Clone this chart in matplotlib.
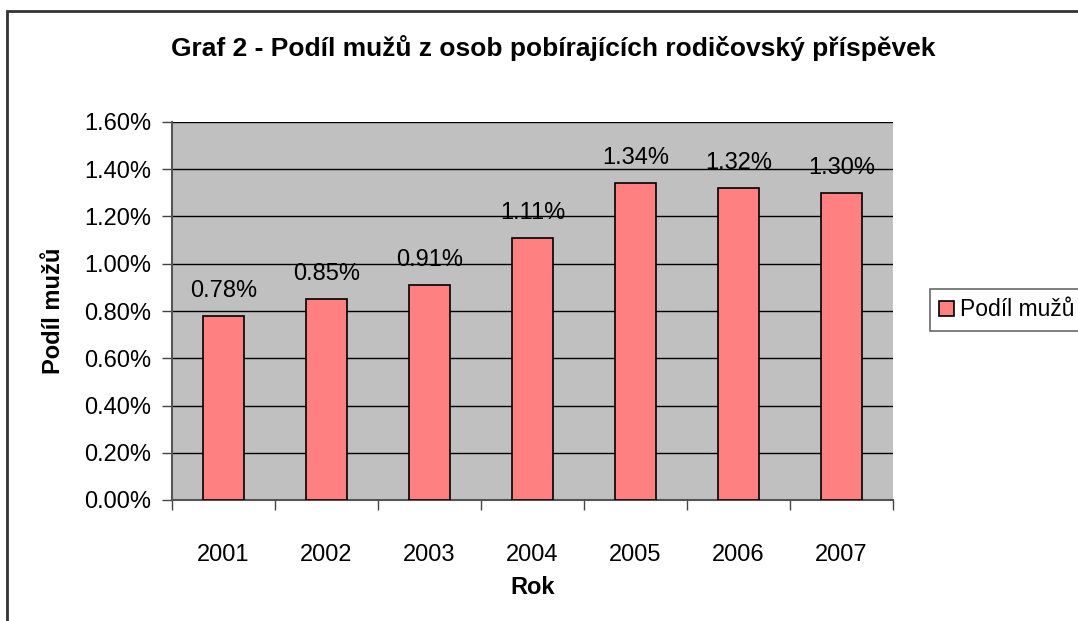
import matplotlib.pyplot as plt
from matplotlib.patches import Rectangle
from matplotlib.ticker import FuncFormatter, MultipleLocator
import numpy as np

plt.rcParams['font.family'] = ['Liberation Sans', 'DejaVu Sans']

# data
years = ['2001', '2002', '2003', '2004', '2005', '2006', '2007']
podil = [0.78, 0.85, 0.91, 1.11, 1.34, 1.32, 1.30]

fig = plt.figure(figsize=(10.78, 6.21), dpi=100)
# outer chart border
fig.patches.append(Rectangle((7 / 1078, -0.1), 1.2, 1 - 11 / 621 + 0.1,
                             transform=fig.transFigure, fill=False,
                             edgecolor='#333333', linewidth=2))

ax = fig.add_axes([172 / 1078, 1 - 500 / 621, (893 - 172) / 1078, (500 - 122) / 621])
ax.set_facecolor('#C0C0C0')

x = np.arange(len(years))
bars = ax.bar(x, podil, width=0.4, color='#FF8080', edgecolor='black',
              linewidth=1.2, label='Podíl mužů', zorder=3)
for xi, v in zip(x, podil):
    ax.text(xi, v + 0.06, '%.2f%%' % v, ha='center', va='bottom', fontsize=17)

ax.set_xlim(-0.5, len(years) - 0.5)
ax.set_ylim(0, 1.6)
ax.yaxis.set_major_locator(MultipleLocator(0.2))
ax.yaxis.set_major_formatter(FuncFormatter(lambda v, p: '%.2f%%' % v))
ax.grid(axis='y', color='black', linewidth=1, zorder=1)
ax.set_axisbelow(True)

ax.set_xticks(x)
ax.set_xticklabels(years)
ax.set_xticks(np.arange(-0.5, len(years)), minor=True)
ax.tick_params(axis='x', which='major', length=0, pad=32, labelsize=17)
ax.tick_params(axis='x', which='minor', length=7, width=1, color='#444444')
ax.tick_params(axis='y', length=7, width=1, color='#444444', labelsize=17, pad=8)

for s in ['top', 'right']:
    ax.spines[s].set_visible(False)
for s in ['left', 'bottom']:
    ax.spines[s].set_color('#555555')
    ax.spines[s].set_linewidth(1.5)

ax.set_xlabel('Rok', fontsize=17, fontweight='bold', labelpad=7)
ax.set_ylabel('Podíl mužů', fontsize=17, fontweight='bold', labelpad=14)

fig.text(553 / 1078, 1 - 48 / 621,
         'Graf 2 - Podíl mužů z osob pobírajících rodičovský příspěvek',
         ha='center', va='center', fontsize=19, fontweight='bold')

leg = fig.legend(handles=[bars], labels=['Podíl mužů'], loc='center left',
                 bbox_to_anchor=(930 / 1078, 1 - 310 / 621), fontsize=16.5,
                 frameon=True, fancybox=False, edgecolor='#444444',
                 handlelength=0.65, handleheight=0.65, handletextpad=0.25,
                 borderpad=0.4, borderaxespad=0)
leg.get_frame().set_linewidth(1.2)

fig.savefig('out.png', dpi=100)
